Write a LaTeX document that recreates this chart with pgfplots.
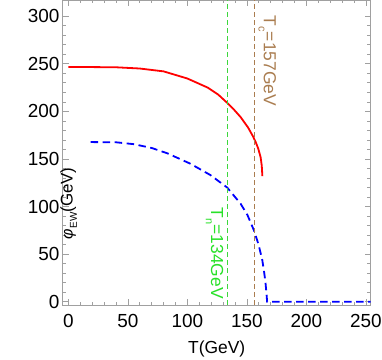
\documentclass[border=0pt]{standalone}
\usepackage{fontspec}
\setmainfont{Liberation Sans}
\usepackage{pgfplots}
\pgfplotsset{compat=1.18}
\definecolor{frameGray}{RGB}{160,160,160}
\definecolor{tcBrown}{RGB}{170,125,80}
\definecolor{tnGreen}{RGB}{40,225,40}
\definecolor{tnLine}{RGB}{60,215,60}

\begin{document}
\begin{tikzpicture}
  \begin{axis}[
    scale only axis,
    width=308bp, height=305bp,
    xmin=-4.7, xmax=254,
    ymin=-3.5, ymax=317,
    xtick={0,50,...,250},
    ytick={0,50,...,300},
    minor tick num=4,
    tick align=inside,
    major tick length=6bp,
    minor tick length=3.5bp,
    axis line style={frameGray, line width=0.8bp},
    every tick/.style={frameGray, line width=0.6bp},
    /pgf/number format/assume math mode=true,
    ticklabel style={font=\fontsize{19}{19}\selectfont, inner sep=0pt},
    xticklabel shift=9bp,
    yticklabel shift=3bp,
    xlabel={T(GeV)},
    xlabel style={font=\fontsize{17.5}{18}\selectfont, at={(axis description cs:0.5,0)}, anchor=center, yshift=-44bp},
    ylabel={{\fontsize{16}{16}\selectfont\itshape φ}\raisebox{-0.25em}{\fontsize{10}{10}\selectfont EW}(GeV)},
    ylabel style={font=\fontsize{17}{18}\selectfont, at={(axis description cs:0,0.5)}, anchor=center, rotate=0, xshift=-50.7bp, yshift=-6bp},
  ]
    % broken phase minimum
    \addplot[red, line width=1.8bp] coordinates {
      (0,246.5) (20,246.5) (40,246.3) (60,245) (80,242) (100,234.5)
      (117,225) (126,217.5) (133.4,209) (139,202) (144.7,194) (151,183)
      (155,174) (157.3,168) (159.5,161) (161.5,152) (162.5,143) (163,132)
    };
    % nucleation path
    \addplot[blue, line width=1.8bp, dash pattern=on 7.5bp off 4.5bp] coordinates {
      (18.8,167.7) (40,167.5) (55,165.5) (70,161.5) (83,156) (102.5,145)
      (119.4,133) (133.4,120) (144.7,103) (150.5,91) (155.9,75)
      (159.8,60) (162.9,44) (164.6,30) (165.7,19) (166.5,8) (167,0) (254,0)
    };
    % Tn and Tc markers
    \addplot[tnLine, line width=1.3bp, dash pattern=on 5bp off 3bp] coordinates {(134,-3.5) (134,317)};
    \addplot[tcBrown, line width=0.9bp, dash pattern=on 5bp off 3bp] coordinates {(156.7,-3.5) (156.7,317)};
    \node[tcBrown, rotate=-90, font=\fontsize{17.5}{18}\selectfont] at (axis cs:167.1,253)
      {T\raisebox{-0.3em}{\fontsize{11}{11}\selectfont c}=157GeV};
    \node[tnGreen, rotate=-90, font=\fontsize{17.5}{18}\selectfont] at (axis cs:122.8,50.8)
      {T\raisebox{-0.3em}{\fontsize{11}{11}\selectfont n}=134GeV};
  \end{axis}
  \pgfresetboundingbox
  \path (current axis.south west) ++(-62.7bp,-55bp) coordinate (bbA);
  \path (current axis.north east) ++(11.3bp,0bp) coordinate (bbB);
  \useasboundingbox (bbA) rectangle (bbB);
\end{tikzpicture}
\end{document}
